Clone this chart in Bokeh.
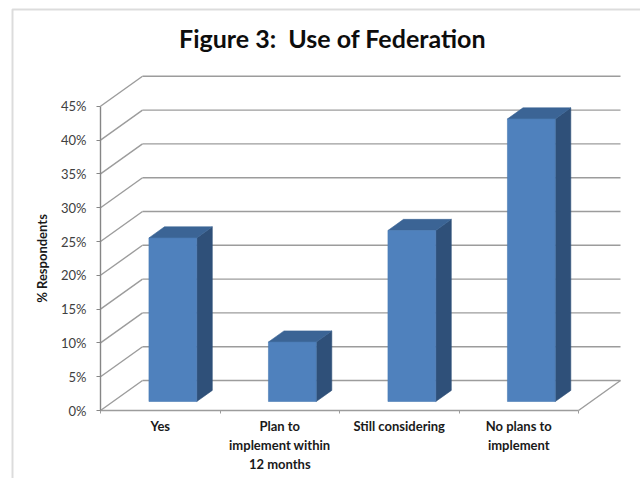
from bokeh.plotting import figure
from bokeh.models import FixedTicker, NumeralTickFormatter, Label, BoxAnnotation, Range1d
from bokeh.embed import file_html
from bokeh.resources import INLINE

# ---- data ----
categories = ["Yes", "Plan to\nimplement within\n12 months", "Still considering", "No plans to\nimplement"]
values = [0.242, 0.088, 0.253, 0.418]
y_ticks = [0.0, 0.05, 0.10, 0.15, 0.20, 0.25, 0.30, 0.35, 0.40, 0.45]
title_text = "Figure 3:\u00a0 Use of Federation"
y_label = "% Respondents"

# ---- projection / layout constants ----
W, H = 640, 478
ORIGIN_X, ORIGIN_Y = 100, 410   # pixel position of the front-floor origin
PX_X = 119.5          # pixels per category
PX_Y = 676.0          # pixels per 1.0 (100%)
DX = 42 / PX_X        # depth offset (x, data units) for full depth
DY = 30 / PX_Y        # depth offset (y, data units) for full depth
BAR_W = 0.40
D0, D1 = 0.30, 0.67   # bar front/back depth fractions
n = len(categories)

FONT = "Lato"
GRID = "#9c9c9c"

p = figure(width=W, height=H, output_backend="svg", toolbar_location=None,
           x_range=Range1d(-ORIGIN_X / PX_X, (W - ORIGIN_X) / PX_X),
           y_range=Range1d(-(H - ORIGIN_Y) / PX_Y, ORIGIN_Y / PX_Y),
           min_border_left=0, min_border_right=0, min_border_top=0, min_border_bottom=0)
p.outline_line_color = None
p.xgrid.visible = False
p.ygrid.visible = False
p.background_fill_color = "white"
p.border_fill_color = "white"

top_tick = y_ticks[-1]

# back wall gridlines
p.multi_line(xs=[[DX, n + DX] for t in y_ticks], ys=[[t + DY, t + DY] for t in y_ticks],
             line_color=GRID, line_width=1.4)
# side wall diagonals
p.multi_line(xs=[[0, DX] for t in y_ticks], ys=[[t, t + DY] for t in y_ticks],
             line_color=GRID, line_width=1.4)
# floor right edge
p.line(x=[n, n + DX], y=[0, DY], line_color=GRID, line_width=1.4)

# bars
front_x, front_y, top_x, top_y, side_x, side_y = [], [], [], [], [], []
for i, v in enumerate(values):
    xl = i + 0.5 - BAR_W / 2
    xr = i + 0.5 + BAR_W / 2
    fx0, fy0 = D0 * DX, D0 * DY
    bx0, by0 = D1 * DX, D1 * DY
    front_x.append([xl + fx0, xr + fx0, xr + fx0, xl + fx0])
    front_y.append([fy0, fy0, v + fy0, v + fy0])
    top_x.append([xl + fx0, xr + fx0, xr + bx0, xl + bx0])
    top_y.append([v + fy0, v + fy0, v + by0, v + by0])
    side_x.append([xr + fx0, xr + bx0, xr + bx0, xr + fx0])
    side_y.append([fy0, by0, v + by0, v + fy0])

p.patches(xs=side_x, ys=side_y, fill_color="#2F5079", line_color="#2F5079", line_width=0.6)
p.patches(xs=top_x, ys=top_y, fill_color="#3B6495", line_color="#3B6495", line_width=0.6)
p.patches(xs=front_x, ys=front_y, fill_color="#4F81BD", line_color="#4A7AB4", line_width=0.6)

# x axis (front floor edge), drawn at y = 0
xa = p.xaxis[0]
xa.fixed_location = 0
xa.ticker = FixedTicker(ticks=[i + 0.5 for i in range(n)], minor_ticks=list(range(n + 1)))
xa.major_label_overrides = {i + 0.5: c for i, c in enumerate(categories)}
xa.bounds = (0, n)
xa.axis_line_color = GRID
xa.axis_line_width = 1.4
xa.major_tick_out = 0
xa.major_tick_in = 0
xa.minor_tick_out = 3
xa.minor_tick_in = 0
xa.minor_tick_line_color = GRID
xa.major_label_standoff = 4
xa.major_label_text_font = FONT
xa.major_label_text_font_style = "bold"
xa.major_label_text_font_size = "13px"
xa.major_label_text_color = "#1a1a1a"
xa.major_label_text_line_height = 1.2

# y axis (front left edge), drawn at x = 0
ya = p.yaxis[0]
ya.fixed_location = 0
ya.ticker = FixedTicker(ticks=y_ticks, minor_ticks=[])
ya.formatter = NumeralTickFormatter(format="0%")
ya.bounds = (0, top_tick)
ya.axis_line_color = "#868686"
ya.axis_line_width = 1.4
ya.major_tick_out = 4
ya.major_tick_in = 0
ya.major_tick_line_color = "#868686"
ya.minor_tick_out = 0
ya.minor_tick_in = 0
ya.major_label_standoff = 10
ya.major_label_text_font = FONT
ya.major_label_text_font_size = "13px"
ya.major_label_text_color = "#404040"
ya.axis_label = y_label
ya.axis_label_standoff = 8
ya.axis_label_text_font = FONT
ya.axis_label_text_font_style = "bold"
ya.axis_label_text_font_size = "13px"
ya.axis_label_text_color = "#1a1a1a"

# title
p.add_layout(Label(x=(332 - ORIGIN_X) / PX_X, y=(ORIGIN_Y - 37) / PX_Y, text=title_text,
                   text_align="center", text_baseline="alphabetic",
                   text_font=FONT, text_font_style="bold", text_font_size="25px",
                   text_color="#0d0d0d"))

# chart-area border
p.add_layout(BoxAnnotation(left=(12 - ORIGIN_X) / PX_X, right=(W + 20 - ORIGIN_X) / PX_X,
                           top=(ORIGIN_Y - 9) / PX_Y, bottom=-(H + 20 - ORIGIN_Y) / PX_Y,
                           fill_color=None, line_color="#8a8a8a", line_width=2))

open("out.html", "w").write(file_html(p, INLINE))
